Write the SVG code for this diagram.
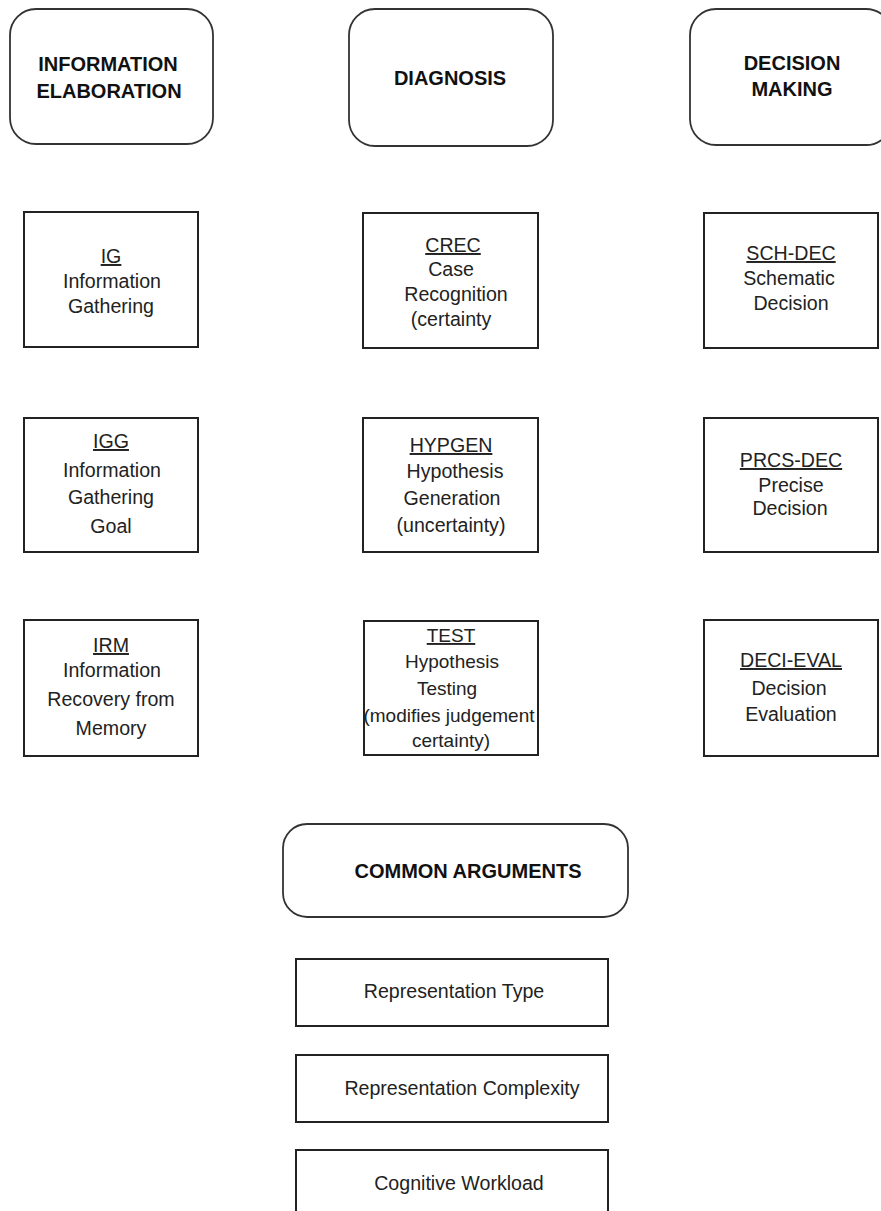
<svg xmlns="http://www.w3.org/2000/svg" width="881" height="1211" viewBox="0 0 881 1211">
<style>
.hdr{fill:#fff;stroke:#333;stroke-width:1.8}
.box{fill:#fff;stroke:#222;stroke-width:2}
text{font-family:"Liberation Sans",Arial,sans-serif;font-size:19.6px;fill:#222;text-anchor:middle}
.b{font-weight:bold;fill:#111;font-size:20px}
.u{text-decoration:underline}
.s{font-size:19px}
</style>
<rect width="881" height="1211" fill="#fff"/>
<g id="connectors"></g>
<g id="hdr-info"><rect class="hdr" x="10" y="9" width="203" height="135" rx="26"/><text class="b" x="108" y="71">INFORMATION</text><text class="b" x="109" y="98">ELABORATION</text></g>
<g id="hdr-diag"><rect class="hdr" x="349" y="9" width="204" height="137" rx="26"/><text class="b" x="450" y="85">DIAGNOSIS</text></g>
<g id="hdr-dec"><rect class="hdr" x="690" y="9" width="202" height="136" rx="26"/><text class="b" x="792" y="70">DECISION</text><text class="b" x="792" y="96">MAKING</text></g>

<g id="IG"><rect class="box" x="24" y="212" width="174" height="135"/><text class="u" x="111" y="263">IG</text><text x="112" y="288">Information</text><text x="111" y="313">Gathering</text></g>
<g id="CREC"><rect class="box" x="363" y="213" width="175" height="135"/><text class="u" x="453" y="252">CREC</text><text x="451" y="276">Case</text><text x="456" y="301">Recognition</text><text x="451" y="326">(certainty</text></g>
<g id="SCH-DEC"><rect class="box" x="704" y="213" width="174" height="135"/><text class="u" x="791" y="260">SCH-DEC</text><text x="789" y="285">Schematic</text><text x="791" y="310">Decision</text></g>

<g id="IGG"><rect class="box" x="24" y="418" width="174" height="134"/><text class="u" x="111" y="448">IGG</text><text x="112" y="477">Information</text><text x="111" y="504">Gathering</text><text x="111" y="533">Goal</text></g>
<g id="HYPGEN"><rect class="box" x="363" y="418" width="175" height="134"/><text class="u" x="451" y="452">HYPGEN</text><text x="455" y="478">Hypothesis</text><text x="452" y="505">Generation</text><text x="451" y="532">(uncertainty)</text></g>
<g id="PRCS-DEC"><rect class="box" x="704" y="418" width="174" height="134"/><text class="u" x="791" y="467">PRCS-DEC</text><text x="791" y="492">Precise</text><text x="790" y="515">Decision</text></g>

<g id="IRM"><rect class="box" x="24" y="620" width="174" height="136"/><text class="u" x="111" y="652">IRM</text><text x="112" y="677">Information</text><text x="111" y="706">Recovery from</text><text x="111" y="735">Memory</text></g>
<g id="TEST"><rect class="box" x="364" y="621" width="174" height="134"/><text class="u s" x="451" y="642">TEST</text><text class="s" x="452" y="668">Hypothesis</text><text class="s" x="447" y="695">Testing</text><text class="s" x="449" y="722">(modifies judgement</text><text class="s" x="451" y="747">certainty)</text></g>
<g id="DECI-EVAL"><rect class="box" x="704" y="620" width="174" height="136"/><text class="u" x="791" y="667">DECI-EVAL</text><text x="789" y="695">Decision</text><text x="791" y="721">Evaluation</text></g>

<g id="hdr-common"><rect class="hdr" x="283" y="824" width="345" height="93" rx="24"/><text class="b" x="468" y="878">COMMON ARGUMENTS</text></g>
<g id="rep-type"><rect class="box" x="296" y="959" width="312" height="67"/><text x="454" y="998">Representation Type</text></g>
<g id="rep-complex"><rect class="box" x="296" y="1055" width="312" height="67"/><text x="462" y="1095">Representation Complexity</text></g>
<g id="cog-work"><rect class="box" x="296" y="1150" width="312" height="70"/><text x="459" y="1190">Cognitive Workload</text></g>
</svg>
